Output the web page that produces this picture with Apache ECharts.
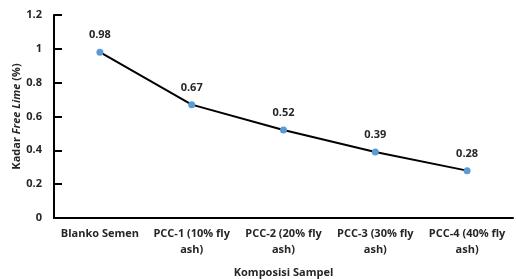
<!DOCTYPE html>
<html>
<head>
<meta charset="utf-8">
<script src="https://cdn.jsdelivr.net/npm/echarts@6/dist/echarts.min.js"></script>
<style>
  html, body { margin: 0; padding: 0; background: #fff; }
  #chart { width: 516px; height: 279px; }
</style>
</head>
<body>
<div id="chart"></div>
<script>
const categories = [
  'Blanko Semen',
  'PCC-1 (10% fly\nash)',
  'PCC-2 (20% fly\nash)',
  'PCC-3 (30% fly\nash)',
  'PCC-4 (40% fly\nash)'
]
const freeLime = [0.98, 0.67, 0.52, 0.39, 0.28]
const yTicks = [0, 0.2, 0.4, 0.6, 0.8, 1, 1.2]

const font = "'Open Sans', 'Liberation Sans', sans-serif"
const chart = echarts.init(document.getElementById('chart'))
chart.setOption({
  backgroundColor: '#fff',
  animation: false,
  textStyle: { fontFamily: font },
  grid: { left: 54, right: 3, top: 15, bottom: 61, containLabel: false, outerBoundsMode: 'none' },
  xAxis: {
    type: 'category',
    data: categories,
    name: 'Komposisi Sampel',
    nameLocation: 'middle',
    nameGap: 49,
    nameMoveOverlap: false,
    nameTextStyle: { fontSize: 11, fontWeight: 'bold', color: '#262626' },
    axisLine: { lineStyle: { color: '#000', width: 2 } },
    axisTick: { alignWithLabel: true, inside: true, length: 7, lineStyle: { color: '#000', width: 2 } },
    axisLabel: { fontSize: 11, fontWeight: 'bold', color: '#262626', margin: 8, lineHeight: 16, interval: 0 }
  },
  yAxis: {
    type: 'value',
    min: yTicks[0],
    max: yTicks[yTicks.length - 1],
    interval: 0.2,
    name: '{n|Kadar }{i|Free Lime}{n| (%)}',
    nameLocation: 'middle',
    nameGap: 32,
    nameMoveOverlap: false,
    nameRotate: 90,
    nameTextStyle: {
      rich: {
        n: { fontSize: 11, fontWeight: 'bold', color: '#262626', fontFamily: font },
        i: { fontSize: 11, fontWeight: 'bold', fontStyle: 'italic', color: '#262626', fontFamily: font }
      }
    },
    axisLine: { show: true, lineStyle: { color: '#000', width: 2 } },
    axisTick: { show: true, inside: true, length: 8, lineStyle: { color: '#000', width: 2 } },
    splitLine: { show: false },
    axisLabel: {
      fontSize: 11, fontWeight: 'bold', color: '#262626', margin: 12,
      formatter: v => String(Math.round(v * 10) / 10)
    }
  },
  series: [{
    type: 'line',
    data: freeLime,
    symbol: 'circle',
    symbolSize: 7,
    lineStyle: { color: '#000', width: 2 },
    itemStyle: { color: '#5B9BD5' },
    label: {
      show: true,
      position: 'top',
      distance: 8,
      fontSize: 11,
      fontWeight: 'bold',
      color: '#262626',
      formatter: p => p.value.toFixed(2)
    }
  }]
})
</script>
</body>
</html>
